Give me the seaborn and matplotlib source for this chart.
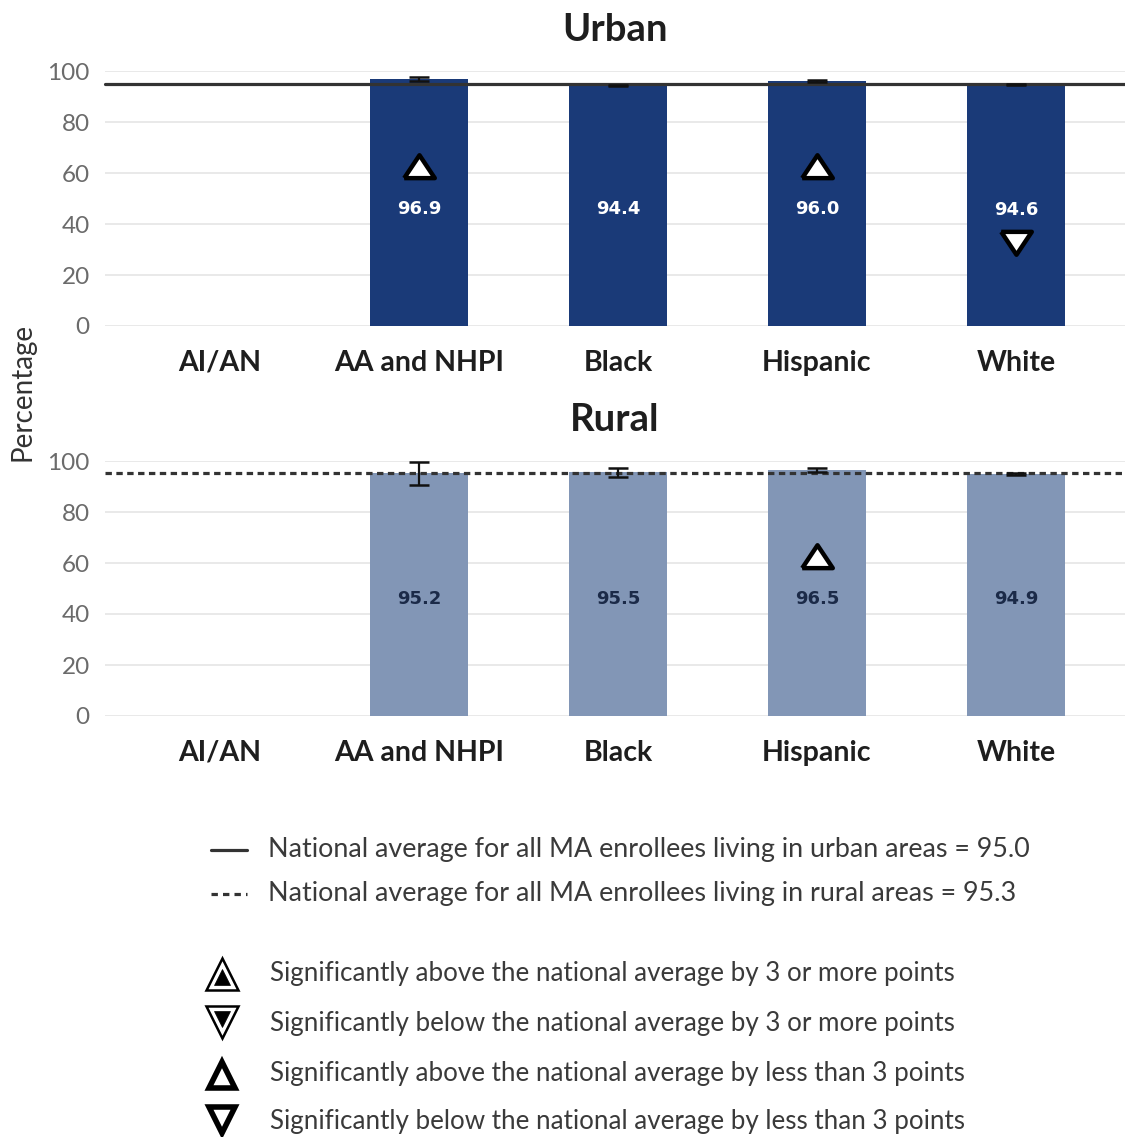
import numpy as np
import pandas as pd
import matplotlib
matplotlib.use("Agg")
import matplotlib.pyplot as plt
from matplotlib.lines import Line2D
import seaborn as sns

# ---------------- data ----------------
categories = ["AI/AN", "AA and NHPI", "Black", "Hispanic", "White"]
urban_values = [np.nan, 96.9, 94.4, 96.0, 94.6]
urban_err = [np.nan, 0.8, 0.3, 0.4, 0.2]
urban_sig = [None, "up", None, "up", "down"]
rural_values = [np.nan, 95.2, 95.5, 96.5, 94.9]
rural_err = [np.nan, 4.5, 1.8, 0.7, 0.3]
rural_sig = [None, None, None, "up", None]
urban_avg = 95.0
rural_avg = 95.3
yticks = [0, 20, 40, 60, 80, 100]
legend_lines = [
    "National average for all MA enrollees living in urban areas = 95.0",
    "National average for all MA enrollees living in rural areas = 95.3",
]
legend_markers = [
    "Significantly above the national average by 3 or more points",
    "Significantly below the national average by 3 or more points",
    "Significantly above the national average by less than 3 points",
    "Significantly below the national average by less than 3 points",
]

# ---------------- style ----------------
sns.set_theme(style="white")
plt.rcParams["font.family"] = ["Lato", "DejaVu Sans"]

URBAN_C = "#1a3a78"
RURAL_C = "#8296b6"
W, H = 1125, 1137
fig = plt.figure(figsize=(W / 100, H / 100), dpi=100)

def px_ax(left, top, right, bottom):
    return fig.add_axes([left / W, 1 - bottom / H, (right - left) / W, (bottom - top) / H])

ax_u = px_ax(105, 71, 1125, 326)
ax_r = px_ax(105, 461, 1125, 716)

up_tri = [(-1, -0.5), (1, -0.5), (0, 1), (-1, -0.5)]
down_tri = [(-1, 0.5), (1, 0.5), (0, -1), (-1, 0.5)]

def draw_panel(ax, title, values, errs, sigs, color, label_color, avg, avg_style):
    df = pd.DataFrame({"category": categories, "value": values})
    sns.barplot(data=df, x="category", y="value", order=categories, color=color,
                saturation=1, width=0.49, errorbar=None, ax=ax, edgecolor="none")
    xs = np.arange(len(categories))
    v = np.array(values, dtype=float)
    e = np.array(errs, dtype=float)
    ok = ~np.isnan(v)
    ax.errorbar(xs[ok], v[ok], yerr=e[ok], fmt="none", ecolor="#111111",
                elinewidth=1.6, capsize=7, capthick=1.8, zorder=5, clip_on=False)
    ax.axhline(avg, color="#333333", lw=2.3, linestyle=avg_style, zorder=4, clip_on=False)
    for x, val, s in zip(xs, values, sigs):
        if np.isnan(val):
            continue
        ty = 46 if s != "down" else 45.5
        ax.text(x, ty, f"{val:.1f}", ha="center", va="center", color=label_color,
                fontsize=13, fontweight="bold", family="DejaVu Sans", zorder=6)
        if s == "up":
            ax.plot(x, 61, marker=up_tri, ms=22, mfc="white", mec="black", mew=3.2,
                    zorder=6, linestyle="none")
        elif s == "down":
            ax.plot(x, 34, marker=down_tri, ms=22, mfc="white", mec="black", mew=3.2,
                    zorder=6, linestyle="none")
    ax.set_xlim(-0.578, 4.548)
    ax.set_ylim(0, 100)
    ax.set_yticks(yticks)
    ax.yaxis.grid(True, color="#e3e3e3", lw=1.1)
    ax.xaxis.grid(False)
    ax.set_axisbelow(True)
    for sp in ax.spines.values():
        sp.set_visible(False)
    ax.set_xlabel("")
    ax.set_ylabel("")
    ax.tick_params(axis="y", length=0, pad=11, labelsize=17.5, labelcolor="#6b6b6b")
    ax.tick_params(axis="x", length=0, pad=17, labelsize=20.5, labelcolor="#1e1e1e")
    for lab in ax.get_xticklabels():
        lab.set_fontweight("bold")
    ax.text(0.5, 1 + 41 / 255, title, transform=ax.transAxes, ha="center", va="center",
            fontsize=27.5, fontweight="bold", color="#1e1e1e")

draw_panel(ax_u, "Urban", urban_values, urban_err, urban_sig, URBAN_C, "white",
           urban_avg, "-")
draw_panel(ax_r, "Rural", rural_values, rural_err, rural_sig, RURAL_C, "#1b2a48",
           rural_avg, (0, (2.0, 1.4)))

fig.text(23 / W, 1 - 392 / H, "Percentage", rotation=90, ha="center", va="center",
         fontsize=20, color="#333333")

# ---------------- legend ----------------
leg = fig.add_axes([0, 0, 1, 1])
leg.set_xlim(0, W)
leg.set_ylim(H, 0)
leg.axis("off")
txt_c = "#3a3a3a"
for i, (lab, ls) in enumerate(zip(legend_lines, ["-", (0, (2, 1.6))])):
    y = 850 + 44 * i
    leg.add_line(Line2D([211, 247], [y, y], color="#333333", lw=2.3, linestyle=ls))
    leg.text(268, y, lab, ha="left", va="center", fontsize=19.4, color=txt_c)

ys = [973, 1023, 1073, 1122]
for i, (lab, y) in enumerate(zip(legend_markers, ys)):
    up = i % 2 == 0
    mk = "^" if up else "v"
    if i < 2:
        leg.plot(222, y + (1 if up else -1), marker=mk, ms=23, mfc="white", mec="black",
                 mew=1.8, linestyle="none")
        leg.plot(222, y + (4 if up else -4), marker=mk, ms=11, mfc="black", mec="black",
                 mew=0.5, linestyle="none")
    else:
        leg.plot(222, y + (2 if up else -2), marker=mk, ms=19, mfc="white", mec="black",
                 mew=4.0, linestyle="none")
    leg.text(270, y, lab, ha="left", va="center", fontsize=18.7, color=txt_c)

fig.savefig("out.png", dpi=100)
